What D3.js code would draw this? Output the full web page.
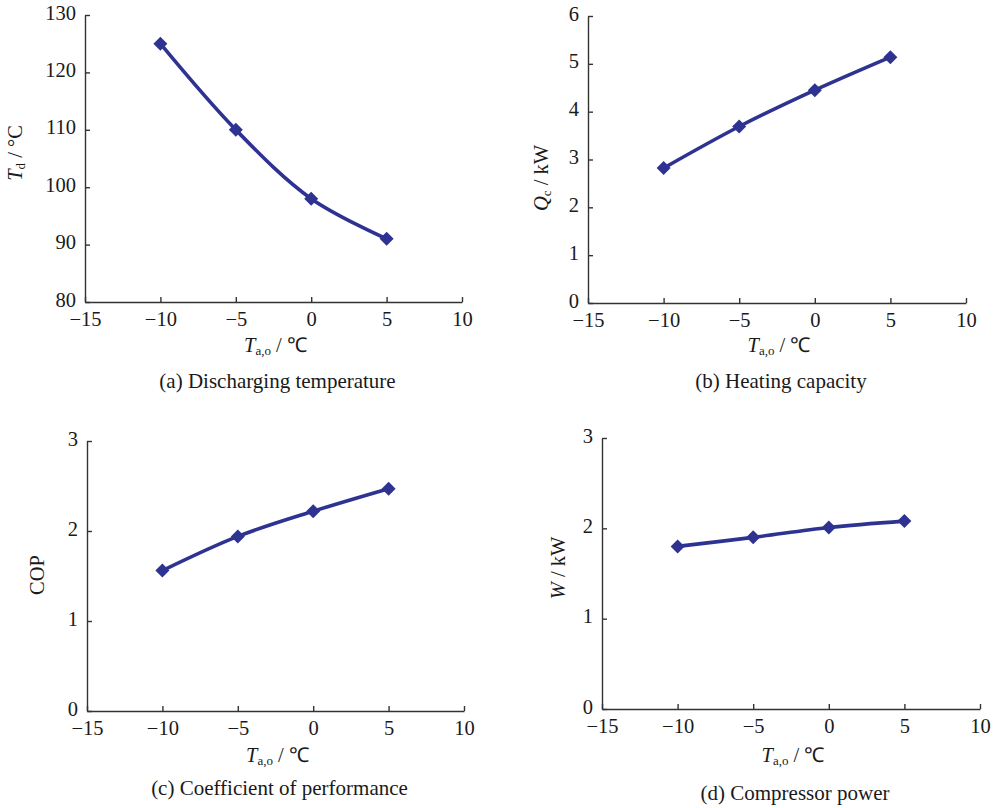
<!DOCTYPE html>
<html>
<head>
<meta charset="utf-8">
<script src="https://cdn.jsdelivr.net/npm/d3@7/dist/d3.min.js"></script>
<style>
  html, body { margin: 0; padding: 0; background: #fff; }
  svg { display: block; }
  text { font-family: "Liberation Serif", "Times New Roman", serif; fill: #1a1a1a; }
</style>
</head>
<body>
<svg id="chart" width="995" height="808"></svg>
<script>
// ---- data ----
const ambientTemps = [-10, -5, 0, 5];
const dischargeTemp = [125, 110, 98, 91];
const heatingCapacity = [2.82, 3.69, 4.45, 5.14];
const copValues = [1.56, 1.94, 2.22, 2.47];
const compressorPower = [1.80, 1.90, 2.01, 2.08];
const xTicks = [-15, -10, -5, 0, 5, 10];
const yTicksA = [80, 90, 100, 110, 120, 130];
const yTicksB = [0, 1, 2, 3, 4, 5, 6];
const yTicksC = [0, 1, 2, 3];
const yTicksD = [0, 1, 2, 3];
const captions = ["(a) Discharging temperature", "(b) Heating capacity", "(c) Coefficient of performance", "(d) Compressor power"];

const lineColor = "#2e3392";
const axisColor = "#333";
const svg = d3.select("#chart");

const panels = [
  { box: {l: 85, r: 462, t: 15, b: 302}, values: dischargeTemp, yTicks: yTicksA,
    yLabel: {main: "T", sub: "d", rest: " / °C", x: 17, y: 153}, xLabelY: 347, capY: 383, caption: captions[0] },
  { box: {l: 588, r: 966, t: 16, b: 303}, values: heatingCapacity, yTicks: yTicksB,
    yLabel: {main: "Q", sub: "c", rest: " / kW", x: 543, y: 178}, xLabelY: 347, capY: 383, caption: captions[1] },
  { box: {l: 87, r: 464, t: 441, b: 711}, values: copValues, yTicks: yTicksC,
    yLabel: {main: "", sub: "", rest: "COP", x: 39, y: 575}, xLabelY: 757, capY: 790, caption: captions[2] },
  { box: {l: 602, r: 980, t: 438, b: 709}, values: compressorPower, yTicks: yTicksD,
    yLabel: {main: "W", sub: "", rest: " / kW", x: 560, y: 568}, xLabelY: 757, capY: 795, caption: captions[3] }
];

const fmt = d => (d < 0 ? "\u2212" + Math.abs(d) : String(d));

panels.forEach(p => {
  const {l, r, t, b} = p.box;
  const x = d3.scaleLinear().domain([xTicks[0], xTicks[xTicks.length - 1]]).range([l, r]);
  const y = d3.scaleLinear().domain([p.yTicks[0], p.yTicks[p.yTicks.length - 1]]).range([b, t]);
  const g = svg.append("g");

  const xAxis = g.append("g").attr("transform", `translate(0,${b})`)
    .call(d3.axisBottom(x).tickValues(xTicks).tickFormat(fmt).tickSizeInner(-5).tickSizeOuter(0).tickPadding(9));
  const yAxis = g.append("g").attr("transform", `translate(${l},0)`)
    .call(d3.axisLeft(y).tickValues(p.yTicks).tickFormat(fmt).tickSizeInner(-5).tickSizeOuter(0).tickPadding(9));
  [xAxis, yAxis].forEach(a => {
    a.select(".domain").attr("stroke", axisColor).attr("stroke-width", 1.4);
    a.selectAll(".tick line").attr("stroke", axisColor).attr("stroke-width", 1.4);
    a.selectAll(".tick text").attr("font-size", 20.5).attr("fill", "#1a1a1a");
  });
  yAxis.selectAll(".tick text").attr("dy", "0.2em");

  const pts = ambientTemps.map((tv, i) => [tv, p.values[i]]);
  const line = d3.line().x(d => x(d[0])).y(d => y(d[1]))
    .curve(d3.curveCatmullRom.alpha(0.5));
  g.append("path").datum(pts).attr("d", line).attr("fill", "none")
    .attr("stroke", lineColor).attr("stroke-width", 3.6).attr("stroke-linejoin", "round");

  const sym = d3.symbol(d3.symbolSquare, 98);
  g.selectAll(".pt").data(pts).enter().append("path")
    .attr("d", sym)
    .attr("transform", d => `translate(${x(d[0])},${y(d[1])}) rotate(45)`)
    .attr("fill", lineColor);

  // y label
  const yl = g.append("text").attr("font-size", 20.5)
    .attr("text-anchor", "middle")
    .attr("transform", `translate(${p.yLabel.x},${p.yLabel.y}) rotate(-90)`)
    .attr("dominant-baseline", "middle");
  if (p.yLabel.main) yl.append("tspan").attr("font-style", "italic").text(p.yLabel.main);
  if (p.yLabel.sub) yl.append("tspan").attr("font-size", 13).attr("dy", 5).text(p.yLabel.sub);
  yl.append("tspan").attr("dy", p.yLabel.sub ? -5 : 0).text(p.yLabel.rest);

  // x label
  const xl = g.append("text").attr("font-size", 20.5).attr("text-anchor", "middle")
    .attr("x", (l + r) / 2 + 2).attr("y", p.xLabelY).attr("dominant-baseline", "middle");
  xl.append("tspan").attr("font-style", "italic").text("T");
  xl.append("tspan").attr("font-size", 13).attr("dy", 5).text("a,o");
  xl.append("tspan").attr("dy", -5).text(" /  \u2103");

  g.append("text").attr("font-size", 21).attr("text-anchor", "middle")
    .attr("x", (l + r) / 2 + 4).attr("y", p.capY).attr("dominant-baseline", "middle")
    .text(p.caption);
});
</script>
</body>
</html>
